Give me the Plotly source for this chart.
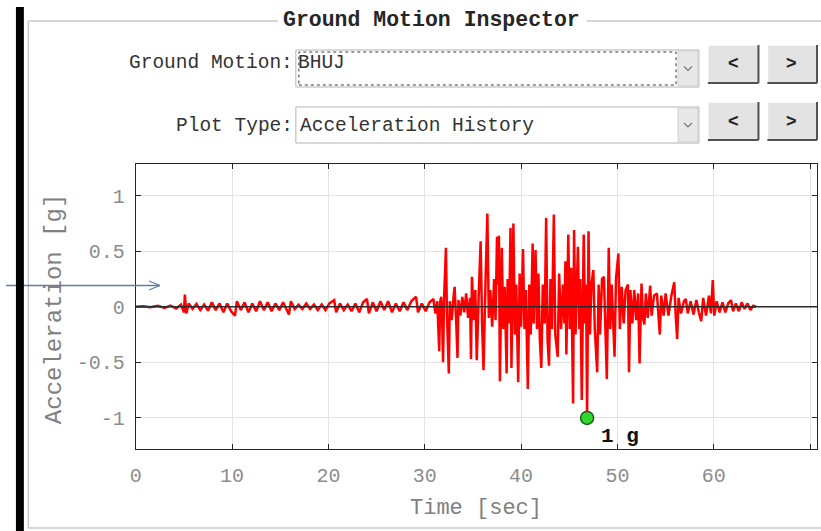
import plotly.graph_objects as go

# ---- Ground motion record (BHUJ), time [sec] and acceleration [g] ----
time_s = [
    0.0, 0.8, 1.5, 2.3, 3.0, 3.6, 4.2, 4.7, 5.0, 5.1, 5.25, 5.5, 5.9, 6.3, 6.7, 7.1, 7.5, 7.9,
    8.3, 8.7, 9.1, 9.5, 9.9, 10.3, 10.5, 10.9, 11.3, 11.7, 12.1, 12.5, 12.9, 13.3, 13.7, 14.1,
    14.5, 14.9, 15.3, 15.7, 15.9, 16.1, 16.5, 16.9, 17.3, 17.7, 18.1, 18.5, 18.9, 19.3, 19.7,
    20.1, 20.6, 20.8, 21.2, 21.6, 22.0, 22.4, 22.8, 23.2, 23.6, 24.0, 24.2, 24.6, 25.0, 25.4,
    25.8, 26.2, 26.6, 27.0, 27.4, 27.8, 28.2, 28.6, 29.1, 29.3, 29.7, 30.1, 30.5, 30.9, 31.1,
    31.3, 31.5, 31.6, 31.7, 31.8, 31.9, 32.0, 32.2, 32.3, 32.5, 32.6, 32.8, 33.0, 33.1, 33.25,
    33.4, 33.5, 33.7, 33.9, 34.1, 34.3, 34.5, 34.7, 34.8, 34.9, 35.1, 35.25, 35.4, 35.6, 35.8,
    35.95, 36.1, 36.3, 36.5, 36.65, 36.8, 37.0, 37.2, 37.35, 37.5, 37.6, 37.7, 37.8, 37.9,
    38.0, 38.15, 38.3, 38.5, 38.6, 38.75, 38.9, 39.0, 39.1, 39.2, 39.35, 39.5, 39.7, 39.85,
    40.0, 40.2, 40.35, 40.5, 40.7, 40.85, 41.0, 41.2, 41.3, 41.5, 41.65, 41.8, 41.95, 42.1,
    42.25, 42.45, 42.6, 42.75, 42.9, 43.05, 43.2, 43.4, 43.55, 43.8, 43.95, 44.15, 44.35,
    44.5, 44.6, 44.7, 44.9, 45.05, 45.2, 45.4, 45.5, 45.65, 45.9, 46.05, 46.15, 46.3, 46.5,
    46.65, 46.75, 46.85, 47.0, 47.15, 47.3, 47.5, 47.65, 47.9, 48.05, 48.2, 48.4, 48.6,
    48.75, 48.9, 49.1, 49.25, 49.4, 49.55, 49.7, 49.85, 50.1, 50.25, 50.45, 50.65, 50.85,
    51.1, 51.2, 51.35, 51.55, 51.75, 51.95, 52.15, 52.3, 52.5, 52.65, 52.8, 52.95, 53.15,
    53.4, 53.55, 53.8, 54.1, 54.25, 54.4, 54.55, 54.8, 55.0, 55.3, 55.6, 55.9, 56.05, 56.2,
    56.35, 56.6, 56.9, 57.1, 57.3, 57.6, 57.9, 58.2, 58.45, 58.7, 58.9, 59.2, 59.5, 59.7,
    59.9, 60.05, 60.3, 60.6, 60.9, 61.2, 61.5, 61.8, 62.0, 62.3, 62.6, 62.9, 63.2, 63.5,
    63.8, 64.1, 64.4,
]
accel_g = [
    0.0, 0.005, -0.005, 0.008, -0.01, 0.01, -0.015, 0.02, -0.05, 0.11, -0.06, 0.03, -0.02, 0.025, -0.03, 0.02, -0.035, 0.04,
    -0.03, 0.03, -0.05, 0.03, -0.04, -0.08, 0.05, -0.03, 0.04, -0.05, 0.03, -0.04, 0.05, -0.03, 0.04, -0.04,
    0.03, -0.03, 0.04, -0.03, -0.07, 0.05, -0.02, 0.02, -0.02, 0.03, -0.02, 0.02, -0.03, 0.02, -0.03,
    0.03, 0.06, -0.05, 0.03, -0.03, 0.02, -0.04, 0.03, -0.05, 0.04, 0.07, -0.06, 0.04, -0.04, 0.05,
    -0.03, 0.05, -0.05, 0.03, -0.04, 0.04, -0.03, 0.05, 0.09, -0.05, 0.03, -0.04, 0.04, 0.07, -0.06,
    0.05, -0.40, 0.04, 0.09, -0.08, -0.50, 0.06, 0.53, -0.05, -0.60, 0.05, -0.12, 0.10, 0.18, -0.10,
    -0.46, 0.06, -0.08, 0.09, -0.05, 0.12, -0.10, 0.08, -0.47, 0.27, -0.12, 0.15, -0.48, 0.10, 0.59,
    -0.15, -0.57, 0.20, 0.84, -0.10, 0.15, -0.18, 0.25, -0.12, 0.63, 0.20, 0.64, -0.67, 0.30,
    0.53, -0.20, 0.18, -0.60, 0.25, -0.15, 0.71, -0.55, 0.40, 0.75, -0.25, 0.20, -0.68, 0.30,
    -0.18, 0.52, -0.20, 0.15, -0.74, 0.20, -0.25, 0.57, -0.15, 0.51, -0.20, 0.30, -0.30, -0.55,
    0.20, -0.15, 0.80, -0.30, -0.53, 0.25, -0.20, 0.83, -0.25, -0.45, 0.30, -0.20, 0.20,
    -0.15, 0.41, -0.43, 0.65, -0.20, 0.35, -0.87, 0.69, -0.25, 0.54, -0.20, 0.25, -0.84, 0.65,
    -0.15, 0.20, -1.00, 0.68, -0.25, 0.20, 0.33, -0.20, -0.59, 0.20, -0.25, 0.25, 0.27,
    -0.20, -0.65, 0.53, -0.20, 0.20, -0.15, -0.45, 0.25, 0.48, -0.20, 0.18, -0.15, 0.15,
    0.20, -0.59, 0.15, -0.15, 0.15, -0.12, 0.12, -0.51, 0.21, -0.10, -0.16, 0.12, -0.10,
    0.19, -0.08, 0.10, 0.12, -0.06, -0.25, 0.10, -0.08, 0.12, -0.08, 0.10, 0.22, -0.08, -0.29,
    0.08, -0.06, 0.05, 0.07, -0.06, 0.05, -0.07, 0.06, -0.05, -0.13, 0.08, -0.08, 0.10, -0.06,
    0.24, -0.08, 0.05, -0.05, 0.04, -0.05, 0.03, 0.06, -0.04, 0.03, -0.04, 0.04, -0.02, 0.03,
    -0.03, 0.01, 0.0,
]

x_tick_vals = [0, 10, 20, 30, 40, 50, 60, 70]
x_tick_text = ["0", "10", "20", "30", "40", "50", "60", "70"]
y_tick_vals = [-1, -0.5, 0, 0.5, 1]
y_tick_text = ["-1", "-0.5", "0", "0.5", "1"]

ground_motion = "BHUJ"
plot_type = "Acceleration History"

# peak ground acceleration (absolute max) marked in green
peak_idx = max(range(len(accel_g)), key=lambda i: abs(accel_g[i]))
peak_t = time_s[peak_idx]
peak_a = accel_g[peak_idx]
peak_label = f"{abs(peak_a):g} g"

W, H = 821, 531
MONO = "Liberation Mono, Courier New, monospace"


def px(x):
    return x / W


def py(y):
    return 1 - y / H


fig = go.Figure()

fig.add_trace(go.Scatter(
    x=time_s, y=accel_g, mode="lines",
    line=dict(color="#ff0000", width=2.5), hoverinfo="skip", showlegend=False,
))
# zero reference line
fig.add_trace(go.Scatter(
    x=[0, 70.72], y=[0, 0], mode="lines",
    line=dict(color="#2b2b2b", width=1.6), hoverinfo="skip", showlegend=False,
))
fig.add_trace(go.Scatter(
    x=[peak_t], y=[peak_a], mode="markers",
    marker=dict(size=13, color="#2ed62e", line=dict(color="#1d5a1d", width=1.5)),
    hoverinfo="skip", showlegend=False,
))

axis_common = dict(
    showline=True, linecolor="#262626", linewidth=1, mirror="ticks",
    ticks="inside", ticklen=5, tickwidth=1, tickcolor="#262626",
    showgrid=True, gridcolor="#e3e3e3", gridwidth=1, zeroline=False,
    tickfont=dict(family=MONO, size=20, color="#8c8c8c"),
)

fig.update_layout(
    width=W, height=H,
    margin=dict(l=0, r=0, t=0, b=0),
    paper_bgcolor="white", plot_bgcolor="white",
    xaxis=dict(
        domain=[px(130.7), px(817)], range=[0, 70.72],
        tickmode="array", tickvals=x_tick_vals, ticktext=x_tick_text,
        ticklabelstandoff=8, **axis_common,
    ),
    yaxis=dict(
        domain=[py(449), py(164)], range=[-1.28, 1.285],
        tickmode="array", tickvals=y_tick_vals, ticktext=y_tick_text,
        ticklabelstandoff=6, **axis_common,
    ),
)

shapes = []
box_col = "#c9c9c9"
# group box frame
for (x0, y0, x1, y1) in [(22.5, 21, 274, 21), (585, 21, 821, 21),
                         (22.5, 21, 22.5, 528), (22.5, 528, 821, 528)]:
    shapes.append(dict(type="line", xref="paper", yref="paper",
                       x0=px(x0), y0=py(y0), x1=px(x1), y1=py(y1),
                       line=dict(color=box_col, width=1.5)))


def rect(x0, y0, x1, y1, fill, line_col=None, lw=1, dash=None):
    d = dict(type="rect", xref="paper", yref="paper",
             x0=px(x0), y0=py(y1), x1=px(x1), y1=py(y0), fillcolor=fill,
             line=dict(width=lw if line_col else 0, color=line_col or fill))
    if dash:
        d["line"]["dash"] = dash
    return d


def seg(x0, y0, x1, y1, col, lw):
    return dict(type="line", xref="paper", yref="paper",
                x0=px(x0), y0=py(y0), x1=px(x1), y1=py(y1),
                line=dict(color=col, width=lw))


# drop-down menus
for (top, bot, focused) in [(50, 87, True), (107, 143, False)]:
    shapes.append(rect(292, top, 698, bot, "white", "#b4b4b4", 1))
    shapes.append(rect(677, top + 1, 697, bot - 1, "#e8e8e8", "#d0d0d0", 1))
    if focused:
        shapes.append(rect(295, top + 2, 675, bot - 2, "rgba(0,0,0,0)", "#3a3a3a", 1, "dot"))
    cy = (top + bot) / 2
    shapes.append(dict(type="path", xref="paper", yref="paper",
                       path=f"M {px(683)},{py(cy - 2)} L {px(687)},{py(cy + 2)} L {px(691)},{py(cy - 2)}",
                       line=dict(color="#777777", width=1.2)))

# push buttons with raised shading
for (top, bot) in [(45, 83), (102, 140)]:
    for (x0, x1) in [(707, 758), (767, 817)]:
        shapes.append(rect(x0, top, x1, bot, "#e3e3e3"))
        shapes.append(seg(x0, top, x1, top, "#ffffff", 1.5))
        shapes.append(seg(x0, top, x0, bot, "#ffffff", 1.5))
        shapes.append(seg(x1, top, x1, bot, "#505050", 2))
        shapes.append(seg(x0, bot, x1, bot, "#505050", 2))

# blue pointer arrow
arrow_col = "#5b80a8"
shapes.append(seg(0, 285.5, 155, 285.5, arrow_col, 1.3))
shapes.append(seg(155, 285.5, 144, 281, arrow_col, 1.3))
shapes.append(seg(155, 285.5, 144, 290, arrow_col, 1.3))

# dark bar at the left edge
shapes.append(rect(10, 7, 18, 531, "#000000"))

fig.update_layout(shapes=shapes)

annotations = [
    dict(text="<b>Ground Motion Inspector</b>", x=px(428.5), y=py(20),
         font=dict(family=MONO, size=21.5, color="#262626"), bgcolor="white"),
    dict(text="Ground Motion:", x=px(291), y=py(63), xanchor="right",
         font=dict(family=MONO, size=19.5, color="#333333")),
    dict(text=ground_motion, x=px(292), y=py(63), xanchor="left",
         font=dict(family=MONO, size=19.5, color="#333333")),
    dict(text="Plot Type:", x=px(291), y=py(126), xanchor="right",
         font=dict(family=MONO, size=19.5, color="#333333")),
    dict(text=plot_type, x=px(294), y=py(126), xanchor="left",
         font=dict(family=MONO, size=19.5, color="#333333")),
    dict(text="Time [sec]", x=px(473), y=py(508),
         font=dict(family=MONO, size=22, color="#808080")),
    dict(text="Acceleration [g]", x=px(48.5), y=py(309), textangle=-90,
         font=dict(family=MONO, size=24, color="#808080")),
    dict(text=f"<b>{peak_label}</b>", x=peak_t, y=peak_a, xref="x", yref="y",
         xanchor="left", yanchor="middle", xshift=12, yshift=-19,
         font=dict(family=MONO, size=21, color="#111111")),
]
for (cx, cy, glyph) in [(733, 63, "<"), (791, 63, ">"), (733, 121, "<"), (791, 121, ">")]:
    annotations.append(dict(text=f"<b>{glyph}</b>", x=px(cx), y=py(cy),
                            font=dict(family="Liberation Sans, Arial", size=18, color="#222222")))

for a in annotations:
    a.setdefault("xref", "paper")
    a.setdefault("yref", "paper")
    a.setdefault("showarrow", False)
    a.setdefault("xanchor", "center")
    a.setdefault("yanchor", "middle")
fig.update_layout(annotations=annotations)

fig.write_html("out.html")
